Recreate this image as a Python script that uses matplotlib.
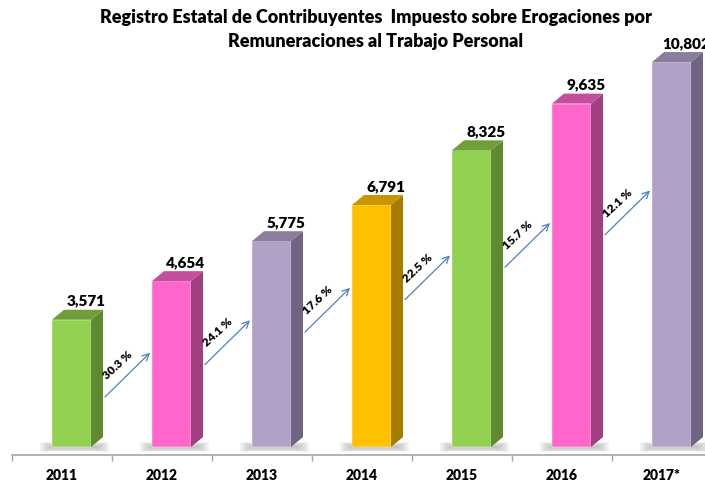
import matplotlib
matplotlib.use('Agg')
import matplotlib.pyplot as plt
from matplotlib.patches import Polygon, Rectangle
import numpy as np

plt.rcParams['font.family'] = ['Lato', 'DejaVu Sans']

# data
years = ['2011', '2012', '2013', '2014', '2015', '2016', '2017*']
registros = [3571, 4654, 5775, 6791, 8325, 9635, 10802]
crecimiento = ['30.3 %', '24.1 %', '17.6 %', '22.5 %', '15.7 %', '12.1 %']

# bar colours: front, side, top
front_colors = ['#92D050', '#FF66CC', '#B2A1C7', '#FFC000', '#92D050', '#FF66CC', '#B2A1C7']
side_colors = ['#5F8A30', '#A0407F', '#706580', '#A67C00', '#5F8A30', '#A0407F', '#706580']
top_colors = ['#6F9E3A', '#C24E9C', '#8B7E9C', '#C79600', '#6F9E3A', '#C24E9C', '#8B7E9C']

fig = plt.figure(figsize=(7.05, 4.84), dpi=100)
ax = fig.add_axes([12 / 705, 29 / 484, 700 / 705, 455 / 484])

x = np.arange(len(years))
x0, x1, dx = -0.10, 0.29, 0.12   # front face edges and depth offset (category units)
dy = 280                         # depth offset in data units

# soft shadows under the bars
for i in x:
    for k in range(6):
        ax.add_patch(Rectangle((i + x0 - 0.12 + k * 0.02, -150 + k * 25),
                               (x1 + dx + 0.06) - (x0 - 0.12) - k * 0.04, 300 - k * 50,
                               color='#707070', alpha=0.08, lw=0, zorder=1))

ax.bar(x + (x0 + x1) / 2, registros, width=x1 - x0, color=front_colors, zorder=3,
       edgecolor='white', linewidth=0.3)

for i, v in enumerate(registros):
    side = [(i + x1, 0), (i + x1 + dx, dy), (i + x1 + dx, v + dy), (i + x1, v)]
    top = [(i + x0, v), (i + x0 + dx, v + dy), (i + x1 + dx, v + dy), (i + x1, v)]
    ax.add_patch(Polygon(side, closed=True, color=side_colors[i], lw=0, zorder=3))
    ax.add_patch(Polygon(top, closed=True, color=top_colors[i], lw=0, zorder=3))
    ax.text(i + 0.24, v + dy + 60, f'{v:,}', ha='center', va='bottom', fontsize=11,
            fontweight='heavy', clip_on=False, zorder=5)

# growth arrows between bars
for i, pct in enumerate(crecimiento):
    y_start = 1350 + 910 * i
    y_end = y_start + 1350
    xs, xe = i + 0.41, i + 1 - 0.10
    ax.annotate('', xy=(xe, y_end), xytext=(xs, y_start),
                arrowprops=dict(arrowstyle='->', color='#4F81BD', lw=0.9, mutation_scale=12), zorder=4)
    ax.annotate(pct, xy=((xs + xe) / 2, (y_start + y_end) / 2), xytext=(-7, 7),
                textcoords='offset points', ha='center', va='center', rotation=43,
                fontsize=8.5, fontweight='heavy', zorder=5)

ax.set_xlim(-0.5, 6.5)
ax.set_ylim(-224, 12542)

for s in ['top', 'right', 'left']:
    ax.spines[s].set_visible(False)
ax.spines['bottom'].set_color('#A6A6A6')
ax.spines['bottom'].set_linewidth(1.2)
ax.set_yticks([])
ax.set_xticks(x)
ax.set_xticklabels(years, fontsize=10, fontweight='heavy')
ax.tick_params(axis='x', which='major', length=0, pad=10)
ax.set_xticks(np.arange(-0.5, 6.6, 1), minor=True)
ax.tick_params(axis='x', which='minor', length=4, color='#A6A6A6', width=1)

fig.text(376 / 705, 1 - 18 / 484, 'Registro Estatal de Contribuyentes  Impuesto sobre Erogaciones por',
         ha='center', va='center', fontsize=13, fontweight='heavy')
fig.text(376 / 705, 1 - 42 / 484, 'Remuneraciones al Trabajo Personal',
         ha='center', va='center', fontsize=13, fontweight='heavy')

fig.savefig('out.png', dpi=100)
